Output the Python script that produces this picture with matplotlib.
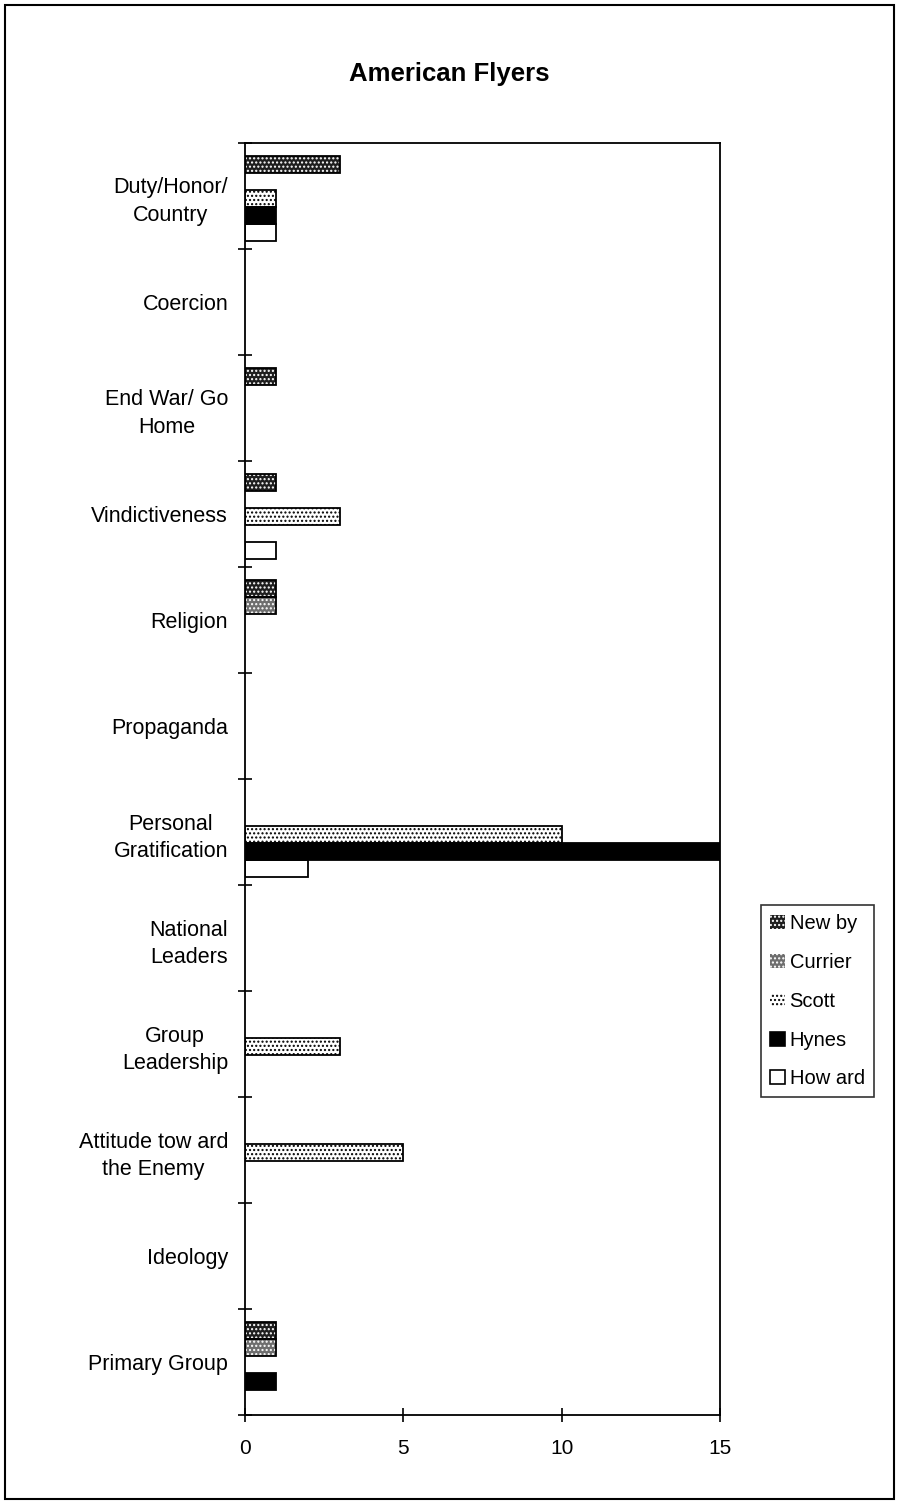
"""
American Flyers - motivation categories by author (horizontal grouped bars).
"""

import matplotlib
matplotlib.use("Agg")
import matplotlib.pyplot as plt
from matplotlib.patches import Patch, Rectangle
import numpy as np

matplotlib.rcParams.update({
    'font.family': ['Liberation Sans', 'DejaVu Sans'],
    'font.size': 15,
    'hatch.linewidth': 1.0,
})

CATEGORIES = [
    "Duty/Honor/\nCountry", "Coercion", "End War/ Go\nHome", "Vindictiveness",
    "Religion", "Propaganda", "Personal\nGratification", "National\nLeaders",
    "Group\nLeadership", "Attitude tow ard\nthe Enemy", "Ideology", "Primary Group",
]
SERIES = ["New by", "Currier", "Scott", "Hynes", "How ard"]

NEWBY   = [3, 0, 1, 1, 1, 0, 0, 0, 0, 0, 0, 1]
CURRIER = [0, 0, 0, 0, 1, 0, 0, 0, 0, 0, 0, 1]
SCOTT   = [1, 0, 0, 3, 0, 0, 10, 0, 3, 5, 0, 0]
HYNES   = [1, 0, 0, 0, 0, 0, 15, 0, 0, 0, 0, 1]
HOWARD  = [1, 0, 0, 1, 0, 0, 2, 0, 0, 0, 0, 0]

X_TICKS = [0, 5, 10, 15]

# (face, hatch colour, hatch) per series - mimics the old stipple fills
STYLES = [
    ("#1e1e1e", "white", "...."),
    ("#6e6e6e", "white", "...."),
    ("white",   "black", "...."),
    ("black",   "black", None),
    ("white",   "black", None),
]


def draw_bars(ax, y, vals, style, height):
    face, hcol, hatch = style
    # fill + hatch first, then a plain black outline on top
    ax.barh(y, vals, height=height, color=face, edgecolor=hcol,
            hatch=hatch, linewidth=0, zorder=2)
    ax.barh(y, vals, height=height, fill=False, edgecolor="black",
            linewidth=1.3, zorder=3)


fig = plt.figure(figsize=(9, 15.04), dpi=100)
ax = fig.add_axes([0.272, 0.059, 0.528, 0.846])

n = len(CATEGORIES)
y = np.arange(n)
h = 0.16
all_vals = [NEWBY, CURRIER, SCOTT, HYNES, HOWARD]
for k, (vals, style) in enumerate(zip(all_vals, STYLES)):
    vals = np.array(vals, dtype=float)
    mask = vals > 0
    offs = -0.295 + k * h
    draw_bars(ax, y[mask] + offs, vals[mask], style, h)

ax.set_xlim(0, 15)
ax.set_ylim(n - 0.5, -0.5)
ax.set_xticks(X_TICKS)
ax.set_xticklabels([str(t) for t in X_TICKS], fontsize=15)
ax.tick_params(axis="x", direction="inout", length=10, width=1.2, pad=12)

ax.set_yticks(y)
ax.set_yticklabels(CATEGORIES, fontsize=15.5, multialignment="center",
                   linespacing=1.4)
ax.tick_params(axis="y", which="major", length=0, pad=12)
ax.set_yticks(np.arange(n + 1) - 0.5, minor=True)
ax.tick_params(axis="y", which="minor", direction="inout", length=10, width=1.2)

for s in ax.spines.values():
    s.set_linewidth(1.3)

fig.text(0.499, 0.951, "American Flyers", ha="center", va="center",
         fontsize=18.5, fontweight="bold")

handles = [Patch(facecolor=f, edgecolor=c, hatch=ht, linewidth=0)
           if ht else Patch(facecolor=f, edgecolor="black", linewidth=1.2)
           for f, c, ht in STYLES]
leg = fig.legend(handles, SERIES, loc="upper left",
                 bbox_to_anchor=(0.846, 0.398), fontsize=14.5,
                 frameon=True, fancybox=False, edgecolor="black",
                 handlelength=0.7, handleheight=0.7, handletextpad=0.25,
                 labelspacing=0.98, borderpad=0.45, borderaxespad=0)
leg.get_frame().set_linewidth(1.2)

# outer page frame
fig.patches.append(Rectangle((0.006, 0.003), 0.987, 0.994, transform=fig.transFigure,
                             fill=False, edgecolor="black", linewidth=1.5))

fig.savefig("out.png", dpi=100)
